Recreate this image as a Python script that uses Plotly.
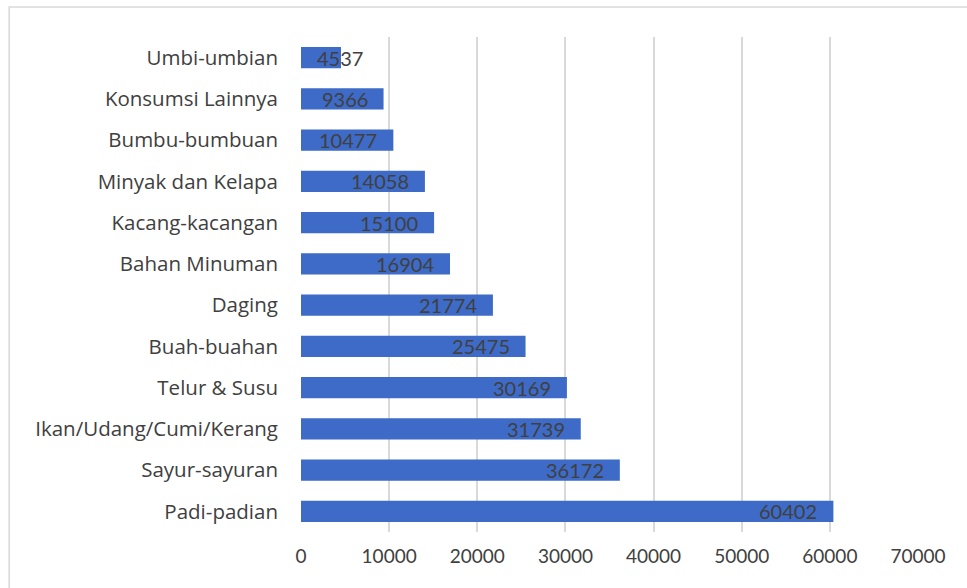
import plotly.graph_objects as go

categories = ["Padi-padian", "Sayur-sayuran", "Ikan/Udang/Cumi/Kerang", "Telur & Susu",
              "Buah-buahan", "Daging", "Bahan Minuman", "Kacang-kacangan",
              "Minyak dan Kelapa", "Bumbu-bumbuan", "Konsumsi Lainnya", "Umbi-umbian"]
values = [60402, 36172, 31739, 30169, 25475, 21774, 16904, 15100, 14058, 10477, 9366, 4537]
x_ticks = [0, 10000, 20000, 30000, 40000, 50000, 60000, 70000]

FONT = "Lato"
TXT = "#404040"

fig = go.Figure()
fig.add_trace(go.Bar(
    x=values, y=categories, orientation="h",
    marker=dict(color="#3d6bc7", line=dict(width=0)),
    width=0.52,
    hoverinfo="x+y",
))

annotations = []
px_per_unit = 617 / 70000
for c, v in zip(categories, values):
    bar_px = v * px_per_unit
    label = str(v)
    text_w = len(label) * 11.5
    if bar_px > text_w + 20:
        annotations.append(dict(x=v, y=c, xref="x", yref="y", text=label, showarrow=False,
                                xanchor="right", xshift=-14, yshift=0,
                                font=dict(family=FONT, size=20, color=TXT)))
    else:
        annotations.append(dict(x=v, y=c, xref="x", yref="y", text=label, showarrow=False,
                                xanchor="center", xshift=-1, yshift=0,
                                font=dict(family=FONT, size=20, color=TXT)))

fig.update_layout(
    width=967, height=588,
    margin=dict(l=301, r=49, t=37, b=56),
    paper_bgcolor="white", plot_bgcolor="white",
    showlegend=False,
    annotations=annotations,
    font=dict(family=FONT, size=18, color=TXT),
    xaxis=dict(range=[0, 70000], tickvals=x_ticks, ticktext=[str(t) for t in x_ticks],
               showgrid=True, gridcolor="#d9d9d9", gridwidth=1.5, zeroline=False,
               showline=False, ticks="", ticklabelstandoff=11,
               tickfont=dict(family=FONT, size=19, color=TXT), fixedrange=True),
    yaxis=dict(categoryorder="array", categoryarray=categories, range=[-0.5, 11.5],
               showgrid=False, zeroline=False, showline=False, ticks="",
               ticklabelstandoff=22,
               tickfont=dict(family="Open Sans", size=20.5, color=TXT), fixedrange=True),
    shapes=[dict(type="rect", xref="paper", yref="paper",
                 x0=-0.473, x1=1.2, y0=-0.2, y1=1.0606,
                 line=dict(color="#d9d9d9", width=1.5), fillcolor="rgba(0,0,0,0)", layer="below")],
)

fig.write_html("out.html")
